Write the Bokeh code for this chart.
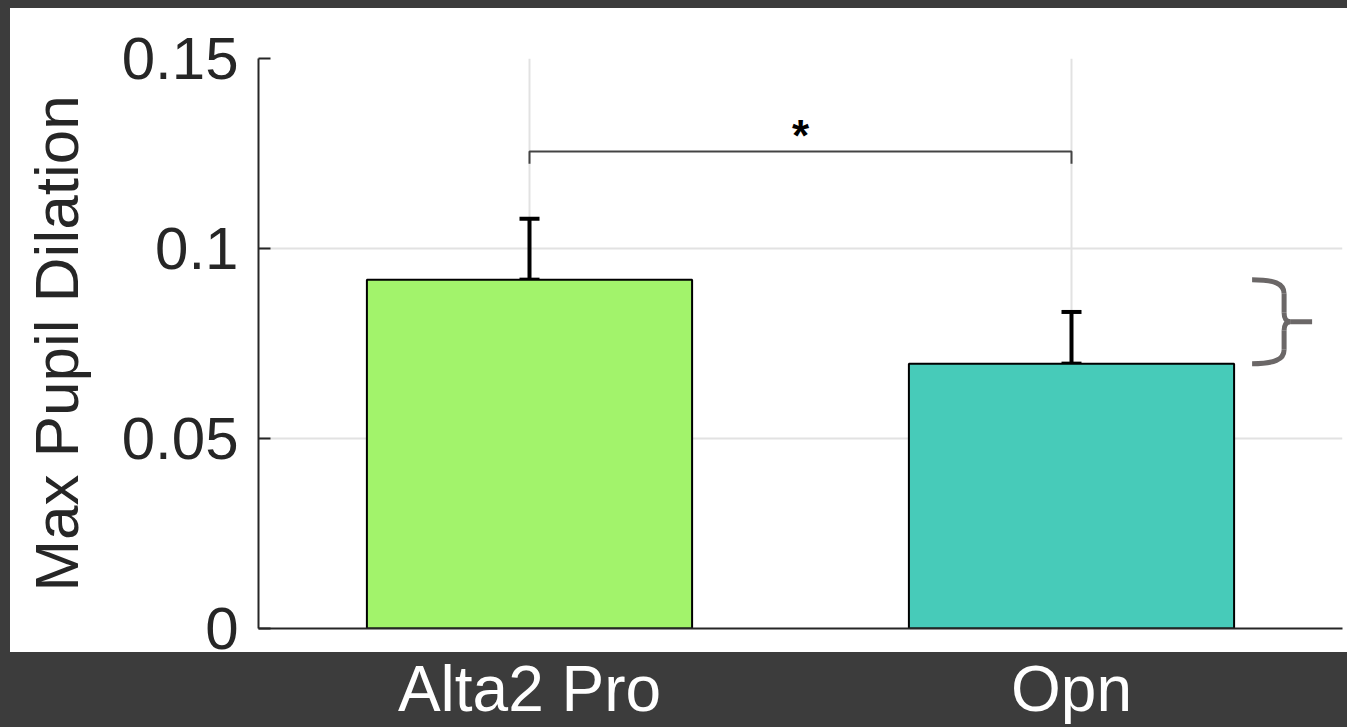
from bokeh.plotting import figure
from bokeh.models import Range1d, FixedTicker, Whisker, TeeHead, ColumnDataSource
from bokeh.core.properties import value
from bokeh.embed import file_html
from bokeh.resources import INLINE

# ---- data ----
categories = ["Alta2 Pro", "Opn"]
positions = [1, 2]
means = [0.0918, 0.0697]
errors = [0.0160, 0.0136]
bar_colors = ["#a2f36b", "#47cbb9"]
y_ticks = [0, 0.05, 0.1, 0.15]
y_tick_labels = ["0", "0.05", "0.1", "0.15"]
sig_y = 0.1255
sig_drop = 0.0032
sig_label = "*"

TXT = "#262626"
FONT = "Liberation Sans"

p = figure(width=1347, height=727, output_backend="svg", toolbar_location=None,
           x_range=Range1d(0.5, 2.5), y_range=Range1d(0, 0.15),
           min_border_left=258, min_border_right=5, min_border_top=58, min_border_bottom=99)
p.border_fill_alpha = 0
p.background_fill_color = "white"
p.outline_line_color = None
p.styles = {"background": "linear-gradient(#ffffff,#ffffff) 10px 8px / 1337px 644px no-repeat, #3c3c3c"}

# grid
p.xgrid.ticker = FixedTicker(ticks=positions)
p.ygrid.ticker = FixedTicker(ticks=y_ticks)
for g in (p.xgrid, p.ygrid):
    g.grid_line_color = "#e2e2e2"
    g.grid_line_width = 2

# y axis
ya = p.yaxis[0]
ya.ticker = FixedTicker(ticks=y_ticks)
ya.major_label_overrides = {t: l for t, l in zip(y_ticks, y_tick_labels)}
ya.bounds = (0, 0.15)
ya.axis_line_color = TXT
ya.axis_line_width = 2
ya.major_tick_in = 12
ya.major_tick_out = 0
ya.major_tick_line_color = TXT
ya.major_tick_line_width = 2
ya.minor_tick_line_color = None
ya.major_label_text_font = FONT
ya.major_label_text_font_size = "60px"
ya.major_label_text_color = TXT
ya.major_label_standoff = 20
ya.axis_label = "Max Pupil Dilation"
ya.axis_label_text_font = FONT
ya.axis_label_text_font_size = "62px"
ya.axis_label_text_font_style = "normal"
ya.axis_label_text_color = TXT
ya.axis_label_standoff = 28

# x axis
xa = p.xaxis[0]
xa.ticker = FixedTicker(ticks=positions)
xa.major_label_overrides = {pos: c for pos, c in zip(positions, categories)}
xa.axis_line_color = TXT
xa.axis_line_width = 2
xa.major_tick_line_color = None
xa.minor_tick_line_color = None
xa.major_label_text_font = FONT
xa.major_label_text_font_size = "64px"
xa.major_label_text_color = "white"
xa.major_label_standoff = 18

src = ColumnDataSource(dict(x=positions, top=means, color=bar_colors,
                            upper=[m + e for m, e in zip(means, errors)]))
p.vbar(x="x", top="top", bottom=0, width=0.6, fill_color="color",
       line_color="black", line_width=2, source=src)

wh = Whisker(base="x", lower="top", upper="upper", source=src, dimension="height",
             line_color="black", line_width=4,
             upper_head=TeeHead(size=20, line_color="black", line_width=4),
             lower_head=TeeHead(size=20, line_color="black", line_width=4))
p.add_layout(wh)

# significance bracket
py = 0.15 / 570.0     # data units per pixel (y)
px = 1.0 / 542.0      # data units per pixel (x)
p.line(x=[positions[0], positions[0], positions[1], positions[1]],
       y=[sig_y - sig_drop, sig_y, sig_y, sig_y - sig_drop],
       line_color="#444444", line_width=2)
p.text(x=[(positions[0] + positions[1]) / 2], y=[sig_y + 16 * py], text=[sig_label],
       text_font=value(FONT), text_font_style="bold", text_font_size="44px",
       text_align="center", text_baseline="alphabetic", text_color="black")

# curly brace on the right, spanning the two bar heights
yt, yb = means[0], means[1]
ym = (yt + yb) / 2
x0 = positions[1] + 0.3 + 18 * px
xv = x0 + 32 * px
xt = xv + 6 * px
xp = x0 + 60 * px
r = 14 * py
rm = 9 * py
bc = "#6b6767"
bw = 5
p.bezier(x0=[x0, x0, xv, xv], y0=[yt, yb, ym + rm, ym - rm],
         x1=[xv, xv, xt, xt], y1=[yt - r, yb + r, ym, ym],
         cx0=[xv - 10 * px, xv - 10 * px, xv, xv], cy0=[yt, yb, ym + rm * 0.4, ym - rm * 0.4],
         cx1=[xv, xv, xv + 2 * px, xv + 2 * px], cy1=[yt - 4 * py, yb + 4 * py, ym, ym],
         line_color=bc, line_width=bw)
p.segment(x0=[xv, xv, xt], y0=[yt - r, ym - rm, ym],
          x1=[xv, xv, xp], y1=[ym + rm, yb + r, ym],
          line_color=bc, line_width=bw)

open("out.html", "w").write(file_html(p, INLINE))
